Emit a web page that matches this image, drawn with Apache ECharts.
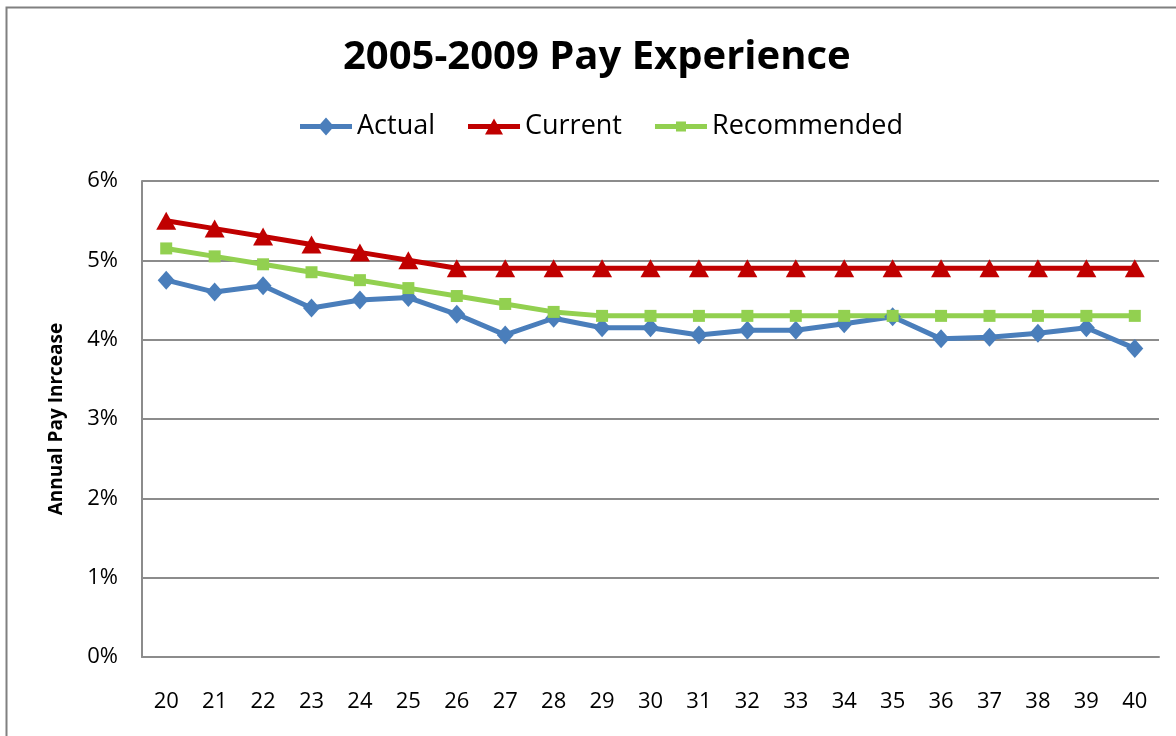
<!DOCTYPE html>
<html>
<head>
<meta charset="utf-8">
<script src="https://cdn.jsdelivr.net/npm/echarts@6/dist/echarts.min.js"></script>
<style>
html,body{margin:0;padding:0;background:#fff;}
#chart{width:1176px;height:736px;}
</style>
</head>
<body>
<div id="chart"></div>
<script>
const categories = ['20','21','22','23','24','25','26','27','28','29','30','31','32','33','34','35','36','37','38','39','40'];
const actual = [4.75,4.60,4.68,4.40,4.50,4.53,4.32,4.06,4.27,4.15,4.15,4.06,4.12,4.12,4.20,4.29,4.01,4.03,4.08,4.15,3.89];
const current = [5.5,5.4,5.3,5.2,5.1,5.0,4.9,4.9,4.9,4.9,4.9,4.9,4.9,4.9,4.9,4.9,4.9,4.9,4.9,4.9,4.9];
const recommended = [5.15,5.05,4.95,4.85,4.75,4.65,4.55,4.45,4.35,4.3,4.3,4.3,4.3,4.3,4.3,4.3,4.3,4.3,4.3,4.3,4.3];
const yTicks = [0,1,2,3,4,5,6];

const FONT = 'Open Sans';
const GRID = '#8c8c8c';

// legend icons: thick line with marker, drawn in a 52x18 box
const corners = 'M0,0L0.01,0L0.01,0.01Z M52,18L51.99,18L51.99,17.99Z ';
const line = 'M0,6.5L52,6.5L52,11.5L0,11.5Z ';
const iconDiamond = 'path://' + corners + line + 'M26,0L34,9L26,18L18,9Z';
const iconTriangle = 'path://' + corners + line + 'M26,1L35,17L17,17Z';
const iconSquare = 'path://' + corners + line + 'M21,4L31,4L31,14L21,14Z';

const chart = echarts.init(document.getElementById('chart'));
chart.setOption({
  animation: false,
  backgroundColor: '#fff',
  graphic: [{
    type: 'rect', left: 4, top: 5, silent: true,
    shape: { width: 1300, height: 900 },
    style: { fill: 'none', stroke: '#808080', lineWidth: 2 }
  }],
  title: {
    text: '2005-2009 Pay Experience',
    left: 338, top: 33,
    textStyle: { fontFamily: FONT, fontSize: 40, fontWeight: 'bold', color: '#000' }
  },
  legend: {
    top: 108, left: 295,
    itemWidth: 52, itemHeight: 18, itemGap: 33,
    textStyle: { fontFamily: FONT, fontSize: 27, color: '#000' },
    data: [
      { name: 'Actual', icon: iconDiamond },
      { name: 'Current', icon: iconTriangle },
      { name: 'Recommended', icon: iconSquare }
    ]
  },
  grid: { left: 142, right: 17, top: 181, bottom: 79, containLabel: false },
  xAxis: {
    type: 'category', data: categories, boundaryGap: true,
    axisLine: { lineStyle: { color: GRID, width: 2 } },
    axisTick: { show: false },
    axisLabel: { fontFamily: FONT, fontSize: 22, color: '#000', margin: 34 }
  },
  yAxis: {
    type: 'value', min: 0, max: 6, interval: 1,
    name: 'Annual Pay Inrcease', nameLocation: 'middle', nameGap: 76, nameRotate: 90,
    nameTextStyle: { fontFamily: FONT, fontSize: 19, fontWeight: 'bold', color: '#000' },
    axisLine: { show: true, lineStyle: { color: GRID, width: 2 } },
    axisTick: { show: false },
    splitLine: { lineStyle: { color: GRID, width: 2 } },
    axisLabel: {
      fontFamily: FONT, fontSize: 22, color: '#000', margin: 24,
      formatter: v => (yTicks.includes(v) ? v + '%' : '')
    }
  },
  series: [
    {
      name: 'Actual', type: 'line', data: actual,
      symbol: 'diamond', symbolSize: [17, 19], showAllSymbol: true,
      itemStyle: { color: '#4a7ebb' },
      lineStyle: { color: '#4a7ebb', width: 5 }
    },
    {
      name: 'Current', type: 'line', data: current,
      symbol: 'triangle', symbolSize: [20, 18], showAllSymbol: true,
      itemStyle: { color: '#c00000' },
      lineStyle: { color: '#c00000', width: 5 }
    },
    {
      name: 'Recommended', type: 'line', data: recommended,
      symbol: 'rect', symbolSize: 12, showAllSymbol: true,
      itemStyle: { color: '#92d050' },
      lineStyle: { color: '#92d050', width: 5 }
    }
  ]
});
</script>
</body>
</html>
